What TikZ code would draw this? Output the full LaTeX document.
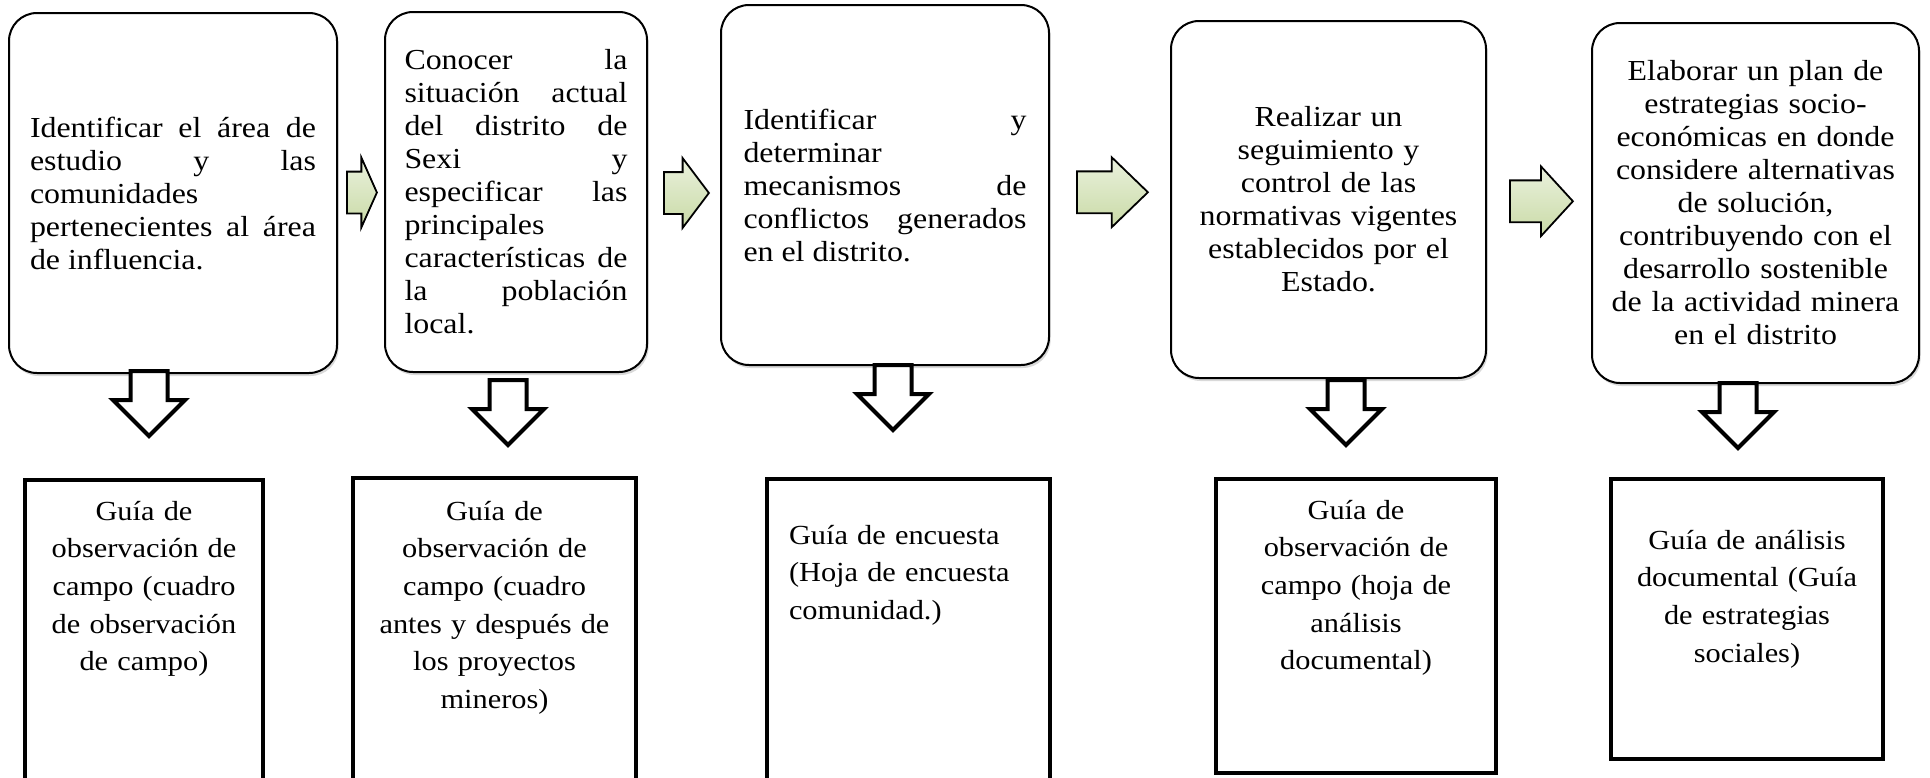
\documentclass[tikz,border=0pt]{standalone}
\usepackage{fontspec}
\setmainfont{Liberation Serif}[FakeStretch=1.1]
\usepackage{tikz}
\usetikzlibrary{shapes.arrows, positioning, calc, shadows}
\usepackage{xcolor}
\definecolor{arrowgreen}{HTML}{C9DAA6}
\definecolor{arrowlight}{HTML}{EAF1DD}
\hbadness=10000

\begin{document}
\begin{tikzpicture}[x=0.5pt, y=-0.5pt,
    objbox/.style={draw, rectangle, rounded corners=14pt, line width=1pt, fill=white, inner sep=0pt, minimum height=180pt, drop shadow={shadow xshift=0.8pt, shadow yshift=-1.5pt, opacity=0.3}, font=\fontsize{14.5}{16.5}\selectfont},
    resbox/.style={draw, rectangle, line width=2.2pt, inner sep=0pt, anchor=north, align=center, font=\fontsize{13.8}{18.8}\selectfont},
    nextarrow/.style={single arrow, draw, line width=0.9pt, top color=arrowlight, bottom color=arrowgreen, inner sep=0pt, inner ysep=10pt, single arrow head extend=7pt, anchor=tail},
    downarrow/.style={single arrow, draw, line width=2pt, fill=white, inner sep=0pt, inner ysep=8.25pt, single arrow head extend=8.75pt, single arrow tip angle=90, minimum height=32.5pt, rotate=-90, anchor=tail}]
    \useasboundingbox (0,0) rectangle (1930,777);
    % Objectives (top row)
    \node (obj1) [objbox, minimum width=164pt, text width=143pt, align=justify] at (173,193) {Identificar el área de\linebreak estudio y las\linebreak comunidades\linebreak pertenecientes al área\linebreak de influencia.};
    \node (obj2) [objbox, minimum width=131pt, text width=111.5pt, align=justify] at (516,192) {Conocer la\linebreak situación actual\linebreak del distrito de\linebreak Sexi y\linebreak especificar las\linebreak principales\linebreak características de\linebreak la población\linebreak local.};
    \node (obj3) [objbox, minimum width=164pt, text width=141.5pt, align=justify] at (885,185) {Identificar y\linebreak determinar\linebreak mecanismos de\linebreak conflictos generados\linebreak en el distrito.};
    \node (obj4) [objbox, minimum width=157.5pt, minimum height=178.5pt, text width=150pt, align=center] at (1328.5,199.5) {Realizar un\\ seguimiento y\\ control de las\\ normativas vigentes\\ establecidos por el\\ Estado.};
    \node (obj5) [objbox, minimum width=163.5pt, text width=155pt, align=center] at (1755.5,203) {Elaborar un plan de\\ estrategias socio-\\ económicas en donde\\ considere alternativas\\ de solución,\\ contribuyendo con el\\ desarrollo sostenible\\ de la actividad minera\\ en el distrito};
    % Instruments (bottom row)
    \node (res1) [resbox, minimum width=119pt, text width=110pt, text height=20pt, text depth=136pt] at (144,478) {Guía de\\ observación de\\ campo (cuadro\\ de observación\\ de campo)};
    \node (res2) [resbox, minimum width=141.5pt, text width=130pt, text height=21pt, text depth=136pt] at (494.5,476) {Guía de\\ observación de\\ campo (cuadro\\ antes y después de\\ los proyectos\\ mineros)};
    \node (res3) [resbox, minimum width=141.5pt, text width=119.5pt, align=left, text height=32.5pt, text depth=124pt] at (908.5,477) {Guía de encuesta\\ (Hoja de encuesta\\ comunidad.)};
    \node (res4) [resbox, minimum width=140pt, text width=130pt, text height=20pt, text depth=127pt] at (1356,477) {Guía de\\ observación de\\ campo (hoja de\\ análisis\\ documental)};
    \node (res5) [resbox, minimum width=136pt, text width=128pt, text height=35pt, text depth=105pt] at (1747,477) {Guía de análisis\\ documental (Guía\\ de estrategias\\ sociales)};
    % Green arrows between objectives
    \node (next1) [nextarrow, minimum height=15pt, single arrow tip angle=132] at ($(obj1.east)!0.5!(obj2.west)+(-15,0)$) {};
    \node (next2) [nextarrow, minimum height=22.5pt, single arrow tip angle=106] at ($(obj2.east)!0.5!(obj3.west)+(-21,4.5)$) {};
    \node (next3) [nextarrow, minimum height=35.5pt, single arrow tip angle=88] at ($(obj3.east)!0.5!(obj4.west)+(-34,0)$) {};
    \node (next4) [nextarrow, minimum height=31.5pt, single arrow tip angle=95] at ($(obj4.east)!0.5!(obj5.west)+(-30,0)$) {};
    % Down arrows to the instruments
    \node (down1) [downarrow] at ($(obj1.south)+(-24,-5)$) {};
    \node (down2) [downarrow] at ($(obj2.south)+(-8,5)$) {};
    \node (down3) [downarrow] at ($(obj3.south)+(8,-3)$) {};
    \node (down4) [downarrow] at ($(obj4.south)+(17.5,-1)$) {};
    \node (down5) [downarrow] at ($(obj5.south)+(-17.5,-3)$) {};
\end{tikzpicture}
\end{document}
